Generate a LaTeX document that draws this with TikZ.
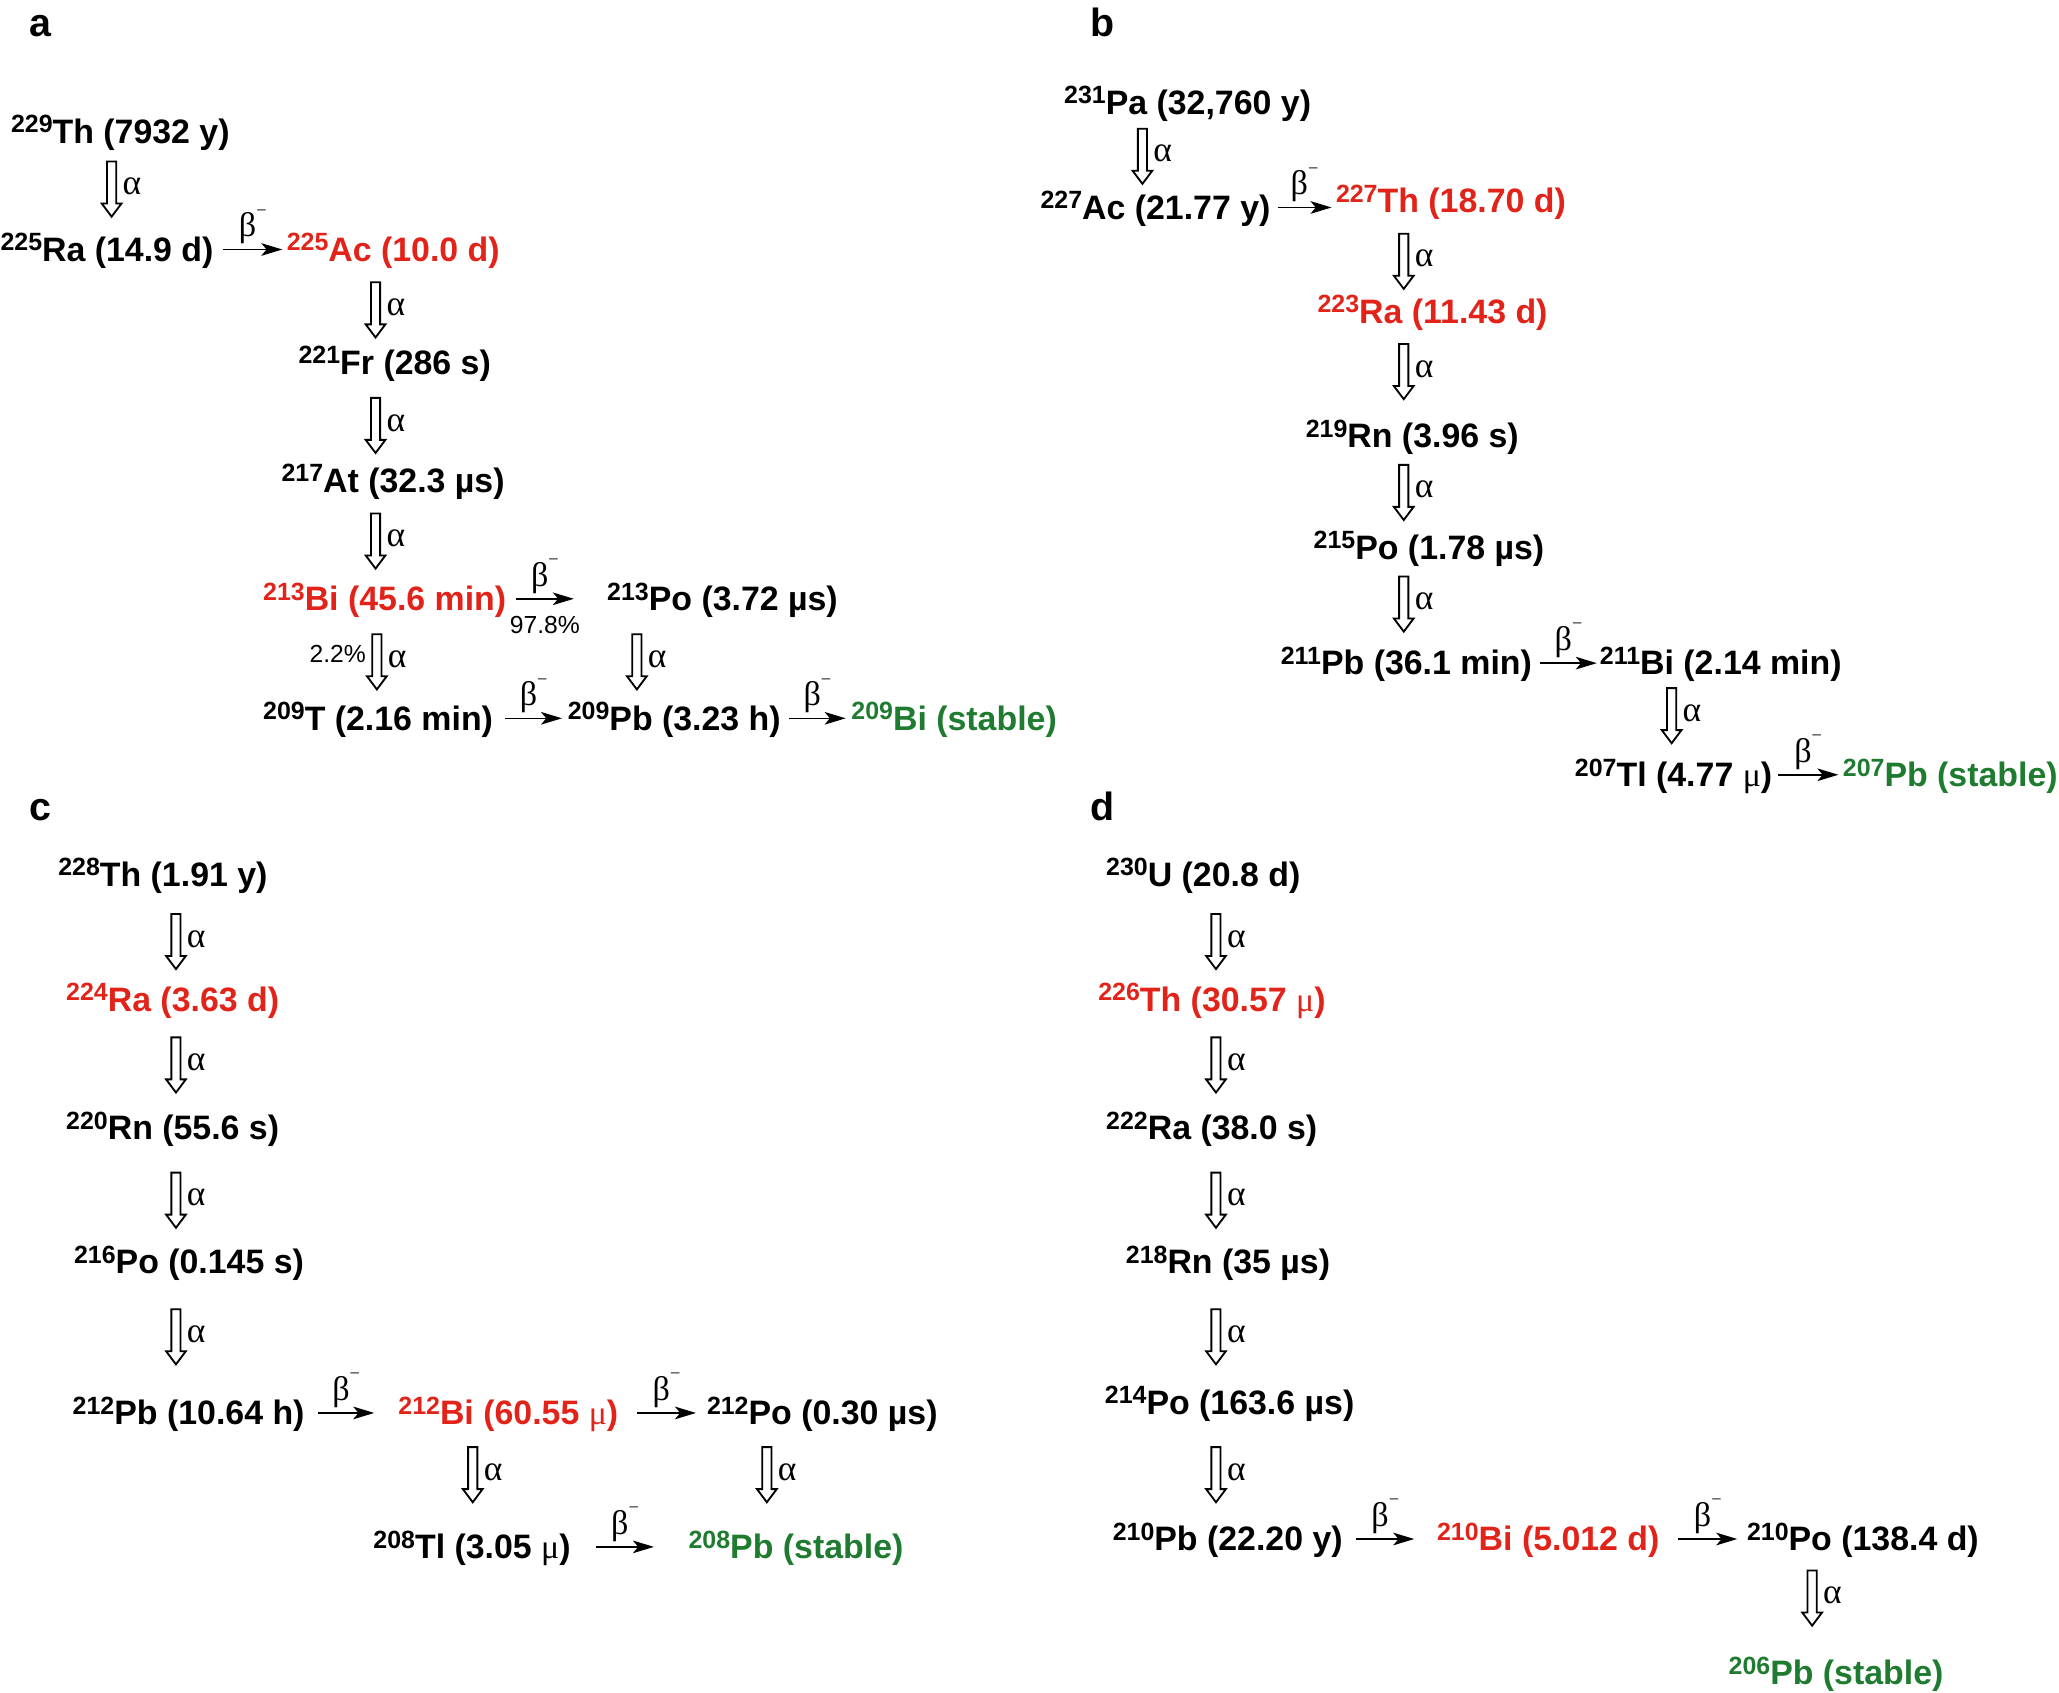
\documentclass[tikz,border=0pt]{standalone}
\usepackage{fontspec}
\setmainfont{Liberation Sans}
\newfontfamily\grk{Liberation Serif}
\usetikzlibrary{arrows.meta,calc}
\definecolor{nred}{HTML}{E2231A}
\definecolor{ngreen}{HTML}{1E7B30}
\newcommand\iso[2]{\raisebox{0.31em}{\fontsize{9.5}{9.5}\selectfont #1}#2}
\newcommand\betam{{\grk\mdseries\fontsize{13}{13}\selectfont β\raisebox{0.6em}{\fontsize{7}{7}\selectfont −}}}
\newcommand\mul{{\grk\mdseries μ}}
\tikzset{
  iso/.style={anchor=base west, inner sep=0pt, font=\fontsize{12.9}{14}\selectfont\bfseries, text height=12pt, text depth=3pt},
  red/.style={text=nred},
  grn/.style={text=ngreen},
  lett/.style={anchor=base west, inner sep=0pt, font=\fontsize{15}{15}\selectfont\bfseries},
  greeklbl/.style={inner sep=0pt, font=\grk\fontsize{13.5}{13.5}\selectfont},
  pct/.style={inner sep=0pt, font=\fontsize{9.4}{9.4}\selectfont},
  beta/.style={line width=0.6pt, -{Stealth[length=8pt,width=4.8pt,inset=2pt]}},
  alph/.pic={
    \draw[line width=0.7pt, line join=miter] (-3.5,0) -- (-3.5,32) -- (-7.5,32) -- (0,42) -- (7.5,32) -- (3.5,32) -- (3.5,0) -- cycle;
    \node[greeklbl, anchor=west] (-l) at (8,19) {α};
  }
}
\begin{document}
\begin{tikzpicture}[x=0.5pt,y=-0.5pt]
\useasboundingbox (0,0) rectangle (1568,1288.6);
% ---------------- panel a
\node[lett] (la) at (22,28) {a};
\node[iso] (Th229) at (8,109) {\iso{229}{Th (7932 y)}};
\pic (a1) at (85,123) {alph};
\node[iso] (Ra225) at (0,199) {\iso{225}{Ra (14.9 d)}};
\node[iso,red] (Ac225) at (218,199) {\iso{225}{Ac (10.0 d)}};
\pic (a2) at (286,215) {alph};
\node[iso] (Fr221) at (227,285) {\iso{221}{Fr (286 s)}};
\pic (a3) at (286,303) {alph};
\node[iso] (At217) at (214,375) {\iso{217}{At (32.3 µs)}};
\pic (a4) at (286,391) {alph};
\node[iso,red] (Bi213) at (200,465) {\iso{213}{Bi (45.6 min)}};
\node[iso] (Po213) at (462,465) {\iso{213}{Po (3.72 µs)}};
\pic (a5) at (287,483) {alph};
\node[pct, anchor=east] (p22) at (279,498) {2.2\%};
\pic (a6) at (485,483) {alph};
\node[iso] (T209) at (200,556) {\iso{209}{T (2.16 min)}};
\node[iso] (Pb209) at (432,556) {\iso{209}{Pb (3.23 h)}};
\node[iso,grn] (Bi209) at (648,556) {\iso{209}{Bi (stable)}};
\draw[beta] ([xshift=3.5pt]Ra225.east) -- node[midway, yshift=8.6pt] (b1) {\betam} ([xshift=-1.5pt]Ac225.west);
\draw[beta] ([xshift=3.5pt]Bi213.east) -- node[midway, yshift=8.6pt] (b2) {\betam} node[pct, midway, yshift=-10pt] (p978) {97.8\%} ([xshift=-12.5pt]Po213.west);
\draw[beta] ([xshift=4.5pt]T209.east) -- node[midway, yshift=8.6pt] (b3) {\betam} ([xshift=-2pt]Pb209.west);
\draw[beta] ([xshift=3pt]Pb209.east) -- node[midway, yshift=8.6pt] (b4) {\betam} ([xshift=-2pt]Bi209.west);
% ---------------- panel b
\node[lett] (lb) at (830,28) {b};
\node[iso] (Pa231) at (810,87) {\iso{231}{Pa (32,760 y)}};
\pic (b5) at (870,98) {alph};
\node[iso] (Ac227) at (792,167) {\iso{227}{Ac (21.77 y)}};
\node[iso,red] (Th227) at (1017,162) {\iso{227}{Th (18.70 d)}};
\pic (b6) at (1069,178) {alph};
\node[iso,red] (Ra223) at (1003,246) {\iso{223}{Ra (11.43 d)}};
\pic (b7) at (1069,262) {alph};
\node[iso] (Rn219) at (994,341) {\iso{219}{Rn (3.96 s)}};
\pic (b8) at (1069,354) {alph};
\node[iso] (Po215) at (1000,426) {\iso{215}{Po (1.78 µs)}};
\pic (b9) at (1069,439) {alph};
\node[iso] (Pb211) at (975,514) {\iso{211}{Pb (36.1 min)}};
\node[iso] (Bi211) at (1218,514) {\iso{211}{Bi (2.14 min)}};
\pic (b10) at (1273,524) {alph};
\node[iso] (Tl207) at (1199,599) {\iso{207}{Tl (4.77 \mul)}};
\node[iso,grn] (Pb207) at (1403,599) {\iso{207}{Pb (stable)}};
\draw[beta] ([xshift=2.5pt]Ac227.east) -- node[midway, yshift=8.6pt] (b11) {\betam} ($(Th227.west |- Ac227.east)+(-1.5pt,0)$);
\draw[beta] ([xshift=3pt]Pb211.east) -- node[midway, yshift=8.6pt] (b12) {\betam} ([xshift=-1pt]Bi211.west);
\draw[beta] ([xshift=2pt]Tl207.east) -- node[midway, yshift=8.6pt] (b13) {\betam} ([xshift=-1.5pt]Pb207.west);
% ---------------- panel c
\node[lett] (lc) at (22,625) {c};
\node[iso] (Th228) at (44,675) {\iso{228}{Th (1.91 y)}};
\pic (c1) at (134,696) {alph};
\node[iso,red] (Ra224) at (50,770) {\iso{224}{Ra (3.63 d)}};
\pic (c2) at (134,790) {alph};
\node[iso] (Rn220) at (50,868) {\iso{220}{Rn (55.6 s)}};
\pic (c3) at (134,893) {alph};
\node[iso] (Po216) at (56,970) {\iso{216}{Po (0.145 s)}};
\pic (c4) at (134,997) {alph};
\node[iso] (Pb212) at (55,1085) {\iso{212}{Pb (10.64 h)}};
\node[iso,red] (Bi212) at (303,1085) {\iso{212}{Bi (60.55 \mul)}};
\node[iso] (Po212) at (538,1085) {\iso{212}{Po (0.30 µs)}};
\pic (c5) at (360,1102) {alph};
\pic (c6) at (584,1102) {alph};
\node[iso] (Tl208) at (284,1187) {\iso{208}{Tl (3.05 \mul)}};
\node[iso,grn] (Pb208) at (524,1187) {\iso{208}{Pb (stable)}};
\draw[beta] ([xshift=5pt]Pb212.east) -- node[midway, yshift=8.6pt] (c7) {\betam} ([xshift=-9pt]Bi212.west);
\draw[beta] ([xshift=7pt]Bi212.east) -- node[midway, yshift=8.6pt] (c8) {\betam} ([xshift=-4pt]Po212.west);
\draw[beta] ([xshift=9.5pt]Tl208.east) -- node[midway, yshift=8.6pt] (c9) {\betam} ([xshift=-13pt]Pb208.west);
% ---------------- panel d
\node[lett] (ld) at (830,625) {d};
\node[iso] (U230) at (842,675) {\iso{230}{U (20.8 d)}};
\pic (d1) at (926,696) {alph};
\node[iso,red] (Th226) at (836,770) {\iso{226}{Th (30.57 \mul)}};
\pic (d2) at (926,790) {alph};
\node[iso] (Ra222) at (842,868) {\iso{222}{Ra (38.0 s)}};
\pic (d3) at (926,893) {alph};
\node[iso] (Rn218) at (857,970) {\iso{218}{Rn (35 µs)}};
\pic (d4) at (926,997) {alph};
\node[iso] (Po214) at (841,1077) {\iso{214}{Po (163.6 µs)}};
\pic (d5) at (926,1102) {alph};
\node[iso] (Pb210) at (847,1181) {\iso{210}{Pb (22.20 y)}};
\node[iso,red] (Bi210) at (1094,1181) {\iso{210}{Bi (5.012 d)}};
\node[iso] (Po210) at (1330,1181) {\iso{210}{Po (138.4 d)}};
\pic (d6) at (1380,1196) {alph};
\node[iso,grn] (Pb206) at (1316,1283) {\iso{206}{Pb (stable)}};
\draw[beta] ([xshift=5pt]Pb210.east) -- node[midway, yshift=8.6pt] (d7) {\betam} ([xshift=-8.5pt]Bi210.west);
\draw[beta] ([xshift=7pt]Bi210.east) -- node[midway, yshift=8.6pt] (d8) {\betam} ([xshift=-3.5pt]Po210.west);
\end{tikzpicture}
\end{document}
